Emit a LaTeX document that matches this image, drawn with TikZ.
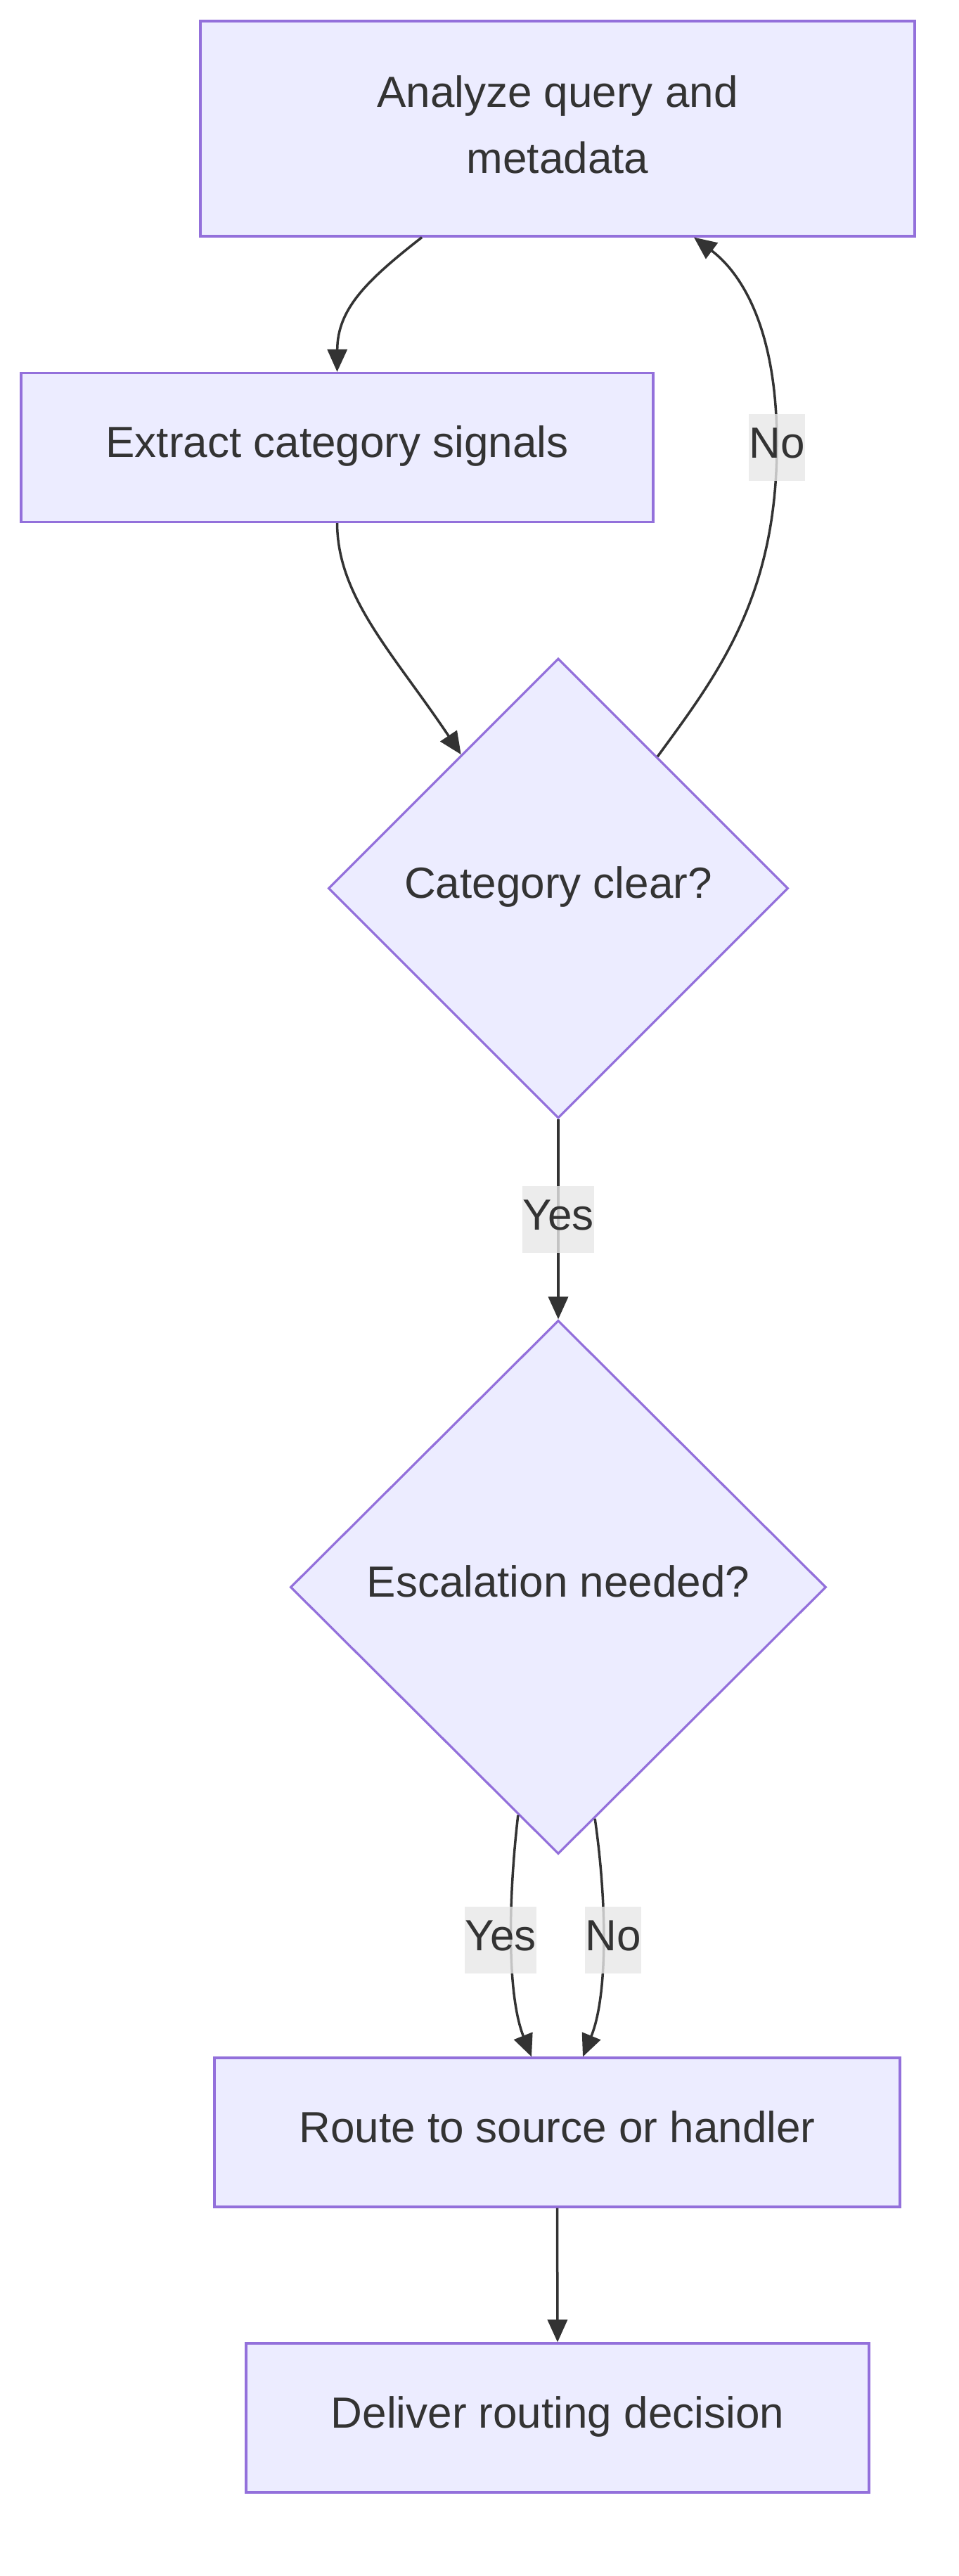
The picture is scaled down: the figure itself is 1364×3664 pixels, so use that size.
\documentclass[tikz,border=0pt]{standalone}
\usepackage{fontspec}
\setmainfont{Liberation Sans}
\usetikzlibrary{shapes.geometric,arrows.meta}
\definecolor{nodefill}{HTML}{ECECFF}
\definecolor{nodeborder}{HTML}{9370DB}
\definecolor{textcol}{HTML}{333333}
\definecolor{edgecol}{HTML}{333333}
\definecolor{labelbg}{HTML}{E8E8E8}
\tikzset{
  boxbase/.style={draw=nodeborder, fill=nodefill, line width=3.2pt, text=textcol,
    font=\fontsize{62}{94}\selectfont, align=center, inner sep=0pt},
  box/.style={boxbase, text height=45pt, text depth=17pt},
  decision/.style={diamond, draw=nodeborder, fill=nodefill, line width=3.2pt, text=textcol,
    font=\fontsize{62}{94}\selectfont, inner sep=0pt, aspect=1,
    text height=45pt, text depth=17pt},
  conn/.style={draw=edgecol, line width=3.5pt, -{Triangle[length=32pt,width=28pt]}},
  elabel/.style={fill=labelbg, fill opacity=0.8, text opacity=1, text=textcol,
    font=\fontsize{62}{94}\selectfont, inner xsep=0pt, inner ysep=0pt,
    text height=63pt, text depth=32pt}
}
\begin{document}
\begin{tikzpicture}[x=1pt,y=-1pt]
\useasboundingbox (0,0) rectangle (1364,3664);
\fill[white] (0,0) rectangle (1364,3664);

\node[boxbase, minimum width=1016pt, minimum height=306pt] (b1) at (793,183) {Analyze query and\\metadata\rule[-12pt]{0pt}{12pt}};
\node[box, minimum width=899pt, minimum height=212pt] (b2) at (479.5,636.5) {Extract category signals};
\node[decision, minimum width=654pt, minimum height=654pt] (d1) at (794,1263.5) {Category clear?};
\node[decision, minimum width=762pt, minimum height=759pt] (d2) at (794,2257.5) {Escalation needed?};
\node[box, minimum width=975pt, minimum height=212pt] (b3) at (792.5,3033) {Route to source or handler};
\node[box, minimum width=886pt, minimum height=212pt] (b4) at (793,3439) {Deliver routing decision};

% b1 -> b2
\draw[conn] ([xshift=-193pt]b1.south) .. controls (520,400) and (480,440) .. (b2.north);
% b2 -> d1
\draw[conn] (b2.south) .. controls (480,850) and (560,930) .. (d1.126.5);
% d1 -> b1 (No)
\draw[conn] (d1.53.9) .. controls (1020,960) and (1105,850) .. (1105,631)
  .. controls (1105,460) and (1050,385) .. ([xshift=194pt]b1.south);
\node[elabel] (lno1) at (1105,636) {No};
% d1 -> d2 (Yes)
\draw[conn] (d1.south) -- (d2.north);
\node[elabel] (lyes1) at (794,1734) {Yes};
% d2 -> b3 (Yes)
\draw[conn] (d2.260.5) .. controls (722,2710) and (722,2840) .. ([xshift=-36.5pt]b3.north);
\node[elabel] (lyes2) at (712,2759) {Yes};
% d2 -> b3 (No)
\draw[conn] (d2.279) .. controls (864,2710) and (864,2840) .. ([xshift=36.5pt]b3.north);
\node[elabel] (lno2) at (872,2759) {No};
% b3 -> b4
\draw[conn] (b3.south) -- (b4.north);
\end{tikzpicture}
\end{document}
